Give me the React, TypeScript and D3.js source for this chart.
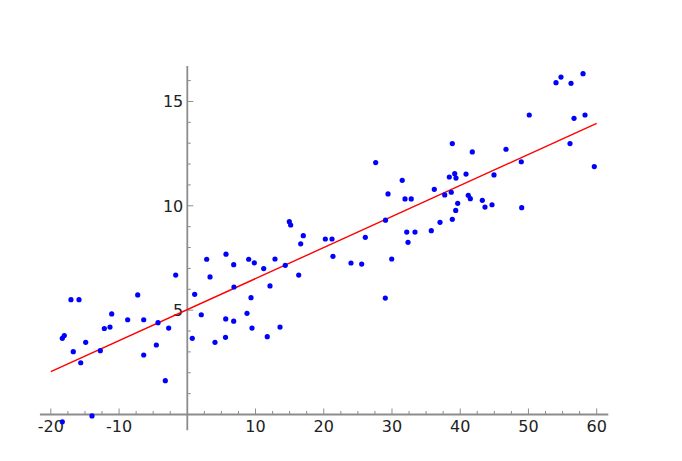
import React from "react";
import * as d3 from "d3";

const pointsX = [
  -18.32, -13.97, -18.32, -18.03, -17.05, -15.87, -16.71, -15.62, -14.89, -12.75,
  -12.16, -11.33, -11.08, -8.74, -7.27, -6.39, -6.39, -4.54, -4.29, -3.22,
  -2.73, -1.70, 0.73, 1.08, 2.05, 2.84, 3.33, 4.06, 5.63, 5.60,
  5.67, 6.80, 6.84, 6.80, 8.75, 9.00, 9.34, 9.48, 9.82, 11.20,
  11.72, 12.12, 12.85, 13.59, 14.36, 14.95, 15.15, 16.33, 16.62, 17.00,
  20.23, 21.21, 21.35, 23.99, 25.56, 26.09, 27.61, 29.02, 29.05, 29.42,
  29.96, 31.50, 31.91, 32.82, 32.16, 33.37, 32.35, 35.76, 36.20, 37.04,
  37.73, 38.40, 38.69, 38.84, 38.84, 39.19, 39.38, 39.34, 39.63, 40.85,
  41.18, 41.48, 41.77, 43.24, 43.63, 44.66, 44.95, 46.71, 48.95, 49.01,
  50.12, 54.04, 54.77, 56.24, 56.09, 56.68, 58.29, 58.00, 59.65,
];
const pointsY = [
  -0.35, -0.07, 3.65, 3.78, 5.50, 5.50, 3.01, 2.48, 3.46, 3.06,
  4.12, 4.19, 4.82, 4.54, 5.73, 4.54, 2.85, 3.33, 4.40, 1.62,
  4.14, 6.68, 3.65, 5.76, 4.78, 7.44, 6.59, 3.46, 4.58, 3.70,
  7.68, 7.18, 6.11, 4.47, 4.85, 7.44, 5.60, 4.14, 7.27, 6.99,
  3.73, 6.16, 7.45, 4.19, 7.15, 9.24, 9.08, 6.68, 8.18, 8.57,
  8.41, 8.41, 7.58, 7.26, 7.21, 8.49, 12.07, 5.58, 9.31, 10.57,
  7.45, 11.22, 10.33, 10.33, 8.74, 8.74, 8.25, 8.81, 10.79, 9.21,
  10.52, 11.38, 10.65, 12.98, 9.35, 11.54, 11.33, 9.78, 10.12, 11.52,
  10.50, 10.34, 12.58, 10.26, 9.94, 10.05, 11.48, 12.71, 12.11, 9.91,
  14.35, 15.90, 16.17, 15.87, 12.98, 14.19, 14.35, 16.33, 11.88,
];
const fitX = [-20, 60];
const fitY = [2.05, 13.95];

const xMajorTicks = [-20, -10, 10, 20, 30, 40, 50, 60];
const xMinorTicks = [-17.5, -15, -12.5, -7.5, -5, -2.5, 2.5, 5, 7.5, 12.5, 15, 17.5, 22.5, 25, 27.5, 32.5, 35, 37.5, 42.5, 45, 47.5, 52.5, 55, 57.5];
const yMajorTicks = [5, 10, 15];
const yMinorTicks = [1, 2, 3, 4, 6, 7, 8, 9, 11, 12, 13, 14, 16];
const xAxisExtent = [-21.6, 61.7];
const yAxisExtent = [-0.75, 16.7];

export default function App() {
  const W = 682, H = 461;
  const x = d3.scaleLinear().domain([-20, 60]).range([50.84, 596.68]);
  const y = d3.scaleLinear().domain([0, 15]).range([414.5, 101.45]);
  const line = d3.line<number>().x((d) => x(fitX[d])).y((d) => y(fitY[d]));
  const axisColor = "#8c8c8c";
  const font = "'DejaVu Sans', sans-serif";
  const x0 = x(0), y0 = y(0);
  return (
    <svg width={W} height={H} style={{ position: "absolute", left: 0, top: 0, background: "#fff" }}>
      <rect width={W} height={H} fill="#fff" />
      {/* axes */}
      <line x1={x(xAxisExtent[0])} x2={x(xAxisExtent[1])} y1={y0} y2={y0} stroke={axisColor} strokeWidth={1.8} />
      <line x1={x0} x2={x0} y1={y(yAxisExtent[0])} y2={y(yAxisExtent[1])} stroke={axisColor} strokeWidth={1.8} />
      {xMajorTicks.map((t) => (
        <line key={"xM" + t} x1={x(t)} x2={x(t)} y1={y0} y2={y0 - 6} stroke={axisColor} strokeWidth={1} />
      ))}
      {xMinorTicks.map((t) => (
        <line key={"xm" + t} x1={x(t)} x2={x(t)} y1={y0} y2={y0 - 3.5} stroke={axisColor} strokeWidth={1} />
      ))}
      {yMajorTicks.map((t) => (
        <line key={"yM" + t} x1={x0} x2={x0 + 6} y1={y(t)} y2={y(t)} stroke={axisColor} strokeWidth={1} />
      ))}
      {yMinorTicks.map((t) => (
        <line key={"ym" + t} x1={x0} x2={x0 + 3.5} y1={y(t)} y2={y(t)} stroke={axisColor} strokeWidth={1} />
      ))}
      {xMajorTicks.map((t) => (
        <text key={"xl" + t} x={x(t)} y={y0 + 17.5} textAnchor="middle" fontFamily={font} fontSize={16} fill="#222">
          {String(t)}
        </text>
      ))}
      {yMajorTicks.map((t) => (
        <text key={"yl" + t} x={x0 - 4} y={y(t) + 6} textAnchor="end" fontFamily={font} fontSize={16} fill="#222">
          {String(t)}
        </text>
      ))}
      {/* fit line */}
      <path d={line([0, 1]) || ""} stroke="#ff0000" strokeWidth={1.4} fill="none" />
      {/* points */}
      {pointsX.map((px, i) => (
        <circle key={"p" + i} cx={x(px)} cy={y(pointsY[i])} r={2.6} fill="#0000ff" />
      ))}
    </svg>
  );
}
